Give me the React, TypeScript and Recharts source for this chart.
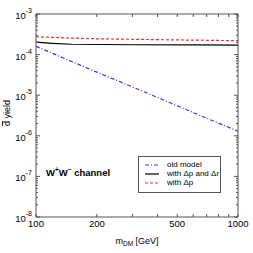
import React from 'react';
import { LineChart, Line, XAxis, YAxis, Customized } from 'recharts';

const oldModel = [
  { x: 100, y: 1.6e-4 },
  { x: 200, y: 3.7e-5 },
  { x: 300, y: 1.6e-5 },
  { x: 500, y: 5.5e-6 },
  { x: 700, y: 2.7e-6 },
  { x: 1000, y: 1.3e-6 },
];
const withDpDr = [
  { x: 100, y: 2.02e-4 },
  { x: 120, y: 1.9e-4 },
  { x: 150, y: 1.8e-4 },
  { x: 300, y: 1.75e-4 },
  { x: 600, y: 1.73e-4 },
  { x: 1000, y: 1.71e-4 },
];
const withDp = [
  { x: 100, y: 2.75e-4 },
  { x: 150, y: 2.55e-4 },
  { x: 200, y: 2.45e-4 },
  { x: 500, y: 2.3e-4 },
  { x: 1000, y: 2.2e-4 },
];

const xTicks = [100, 200, 300, 400, 500, 600, 700, 800, 900, 1000];
const xLabels = [100, 200, 500, 1000];
const yMajor = [1e-8, 1e-7, 1e-6, 1e-5, 1e-4, 1e-3];
const yTicks: number[] = [];
for (let e = -8; e < -3; e++) {
  for (let m = 1; m < 10; m++) yTicks.push(Number((m * Math.pow(10, e)).toPrecision(3)));
}
yTicks.push(1e-3);

const AX = '#555';
const FONT = 'Liberation Sans, Arial, sans-serif';

const isMajor = (v: number) => yMajor.some((m) => Math.abs(v / m - 1) < 1e-6);

const LeftYTick = (props: any) => {
  const { x, y, payload } = props;
  const major = isMajor(payload.value);
  const len = major ? 4 : 2;
  const exp = Math.round(Math.log10(payload.value));
  return (
    <g>
      <line x1={x} x2={x + len} y1={y} y2={y} stroke={AX} strokeWidth={1} />
      {major && (
        <text x={x - 4} y={y + 5} textAnchor="end" fontSize={9.5} fill="#000" fontFamily={FONT}>
          10
          <tspan dy={-6} fontSize={7}>{String(exp)}</tspan>
        </text>
      )}
    </g>
  );
};

const RightYTick = (props: any) => {
  const { x, y, payload } = props;
  const major = isMajor(payload.value);
  const len = major ? 4 : 2;
  return <line x1={x} x2={x - len} y1={y} y2={y} stroke={AX} strokeWidth={1} />;
};

const BottomXTick = (props: any) => {
  const { x, y, payload } = props;
  const lab = xLabels.includes(payload.value);
  return (
    <g>
      <line x1={x} x2={x} y1={y} y2={y - 3} stroke={AX} strokeWidth={1} />
      {lab && (
        <text x={x} y={y + 10} textAnchor="middle" fontSize={9.5} fill="#000" fontFamily={FONT}>
          {payload.value}
        </text>
      )}
    </g>
  );
};

const TopXTick = (props: any) => {
  const { x, y } = props;
  return <line x1={x} x2={x} y1={y} y2={y + 3} stroke={AX} strokeWidth={1} />;
};

const Annotations = () => (
  <g fontFamily={FONT}>
    <text x={46} y={176} fontSize={9.5} fontWeight="bold" fill="#000">
      W<tspan dy={-4} fontSize={6.5}>+</tspan>
      <tspan dy={4}>W</tspan>
      <tspan dy={-4} fontSize={6.5}>−</tspan>
      <tspan dy={4}> channel</tspan>
    </text>
    <text x={137} y={244} textAnchor="middle" fontSize={9} fill="#000">
      m<tspan dy={2} fontSize={6.5}>DM</tspan>
      <tspan dy={-2}> [GeV]</tspan>
    </text>
    <text
      x={10}
      y={113}
      textAnchor="middle"
      fontSize={9}
      fill="#000"
      transform="rotate(-90 10 113)"
    >
      <tspan textDecoration="overline" style={{ textDecoration: 'overline' }}>d</tspan> yield
    </text>
  </g>
);

const legendItems = [
  { label: 'old model', color: '#3333ff', dash: '4 2 1 2' },
  { label: 'with Δp and Δr', color: '#000000', dash: '' },
  { label: 'with Δp', color: '#ff2a2a', dash: '3 2' },
];

const LegendBox = () => (
  <div
    style={{
      position: 'absolute',
      left: 138,
      top: 156,
      width: 83,
      height: 37,
      border: '1px solid #555',
      background: '#fff',
      boxSizing: 'border-box',
      fontFamily: FONT,
      fontSize: 8,
      padding: '3px 0 0 6px',
    }}
  >
    {legendItems.map((it) => (
      <div key={it.label} style={{ display: 'flex', alignItems: 'center', height: 9 }}>
        <svg width={14} height={6} style={{ marginRight: 8 }}>
          <line x1={0} x2={14} y1={3} y2={3} stroke={it.color} strokeWidth={1.2} strokeDasharray={it.dash} />
        </svg>
        <span style={{ lineHeight: '9px', whiteSpace: 'nowrap' }}>{it.label}</span>
      </div>
    ))}
  </div>
);

export default function App() {
  return (
    <div style={{ position: 'absolute', left: 0, top: 0, width: 253, height: 253, background: '#fff' }}>
      <LineChart width={253} height={253} margin={{ top: 0, right: 0, bottom: 0, left: 0 }}>
        <XAxis
          xAxisId="b"
          dataKey="x"
          type="number"
          scale="log"
          domain={[100, 1000]}
          ticks={xTicks}
          interval={0}
          allowDataOverflow
          height={36}
          tickSize={0}
          tickMargin={0}
          tickLine={false}
          stroke={AX}
          tick={<BottomXTick />}
        />
        <XAxis
          xAxisId="t"
          orientation="top"
          dataKey="x"
          type="number"
          scale="log"
          domain={[100, 1000]}
          ticks={xTicks}
          interval={0}
          allowDataOverflow
          height={14}
          tickSize={0}
          tickMargin={0}
          tickLine={false}
          stroke={AX}
          tick={<TopXTick />}
        />
        <YAxis
          yAxisId="l"
          dataKey="y"
          type="number"
          scale="log"
          domain={[1e-8, 1e-3]}
          ticks={yTicks}
          interval={0}
          allowDataOverflow
          width={36}
          tickSize={0}
          tickMargin={0}
          tickLine={false}
          stroke={AX}
          tick={<LeftYTick />}
        />
        <YAxis
          yAxisId="r"
          orientation="right"
          dataKey="y"
          type="number"
          scale="log"
          domain={[1e-8, 1e-3]}
          ticks={yTicks}
          interval={0}
          allowDataOverflow
          width={15}
          tickSize={0}
          tickMargin={0}
          tickLine={false}
          stroke={AX}
          tick={<RightYTick />}
        />
        <Line
          xAxisId="b"
          yAxisId="l"
          data={oldModel}
          dataKey="y"
          stroke="#3333ff"
          strokeWidth={1.2}
          strokeDasharray="4 2 1 2"
          dot={false}
          type="linear"
          isAnimationActive={false}
        />
        <Line
          xAxisId="b"
          yAxisId="l"
          data={withDp}
          dataKey="y"
          stroke="#ff2a2a"
          strokeWidth={1.2}
          strokeDasharray="3 2"
          dot={false}
          type="linear"
          isAnimationActive={false}
        />
        <Line
          xAxisId="b"
          yAxisId="l"
          data={withDpDr}
          dataKey="y"
          stroke="#000000"
          strokeWidth={1.2}
          dot={false}
          type="linear"
          isAnimationActive={false}
        />
        <Customized component={Annotations} />
      </LineChart>
      <LegendBox />
    </div>
  );
}
